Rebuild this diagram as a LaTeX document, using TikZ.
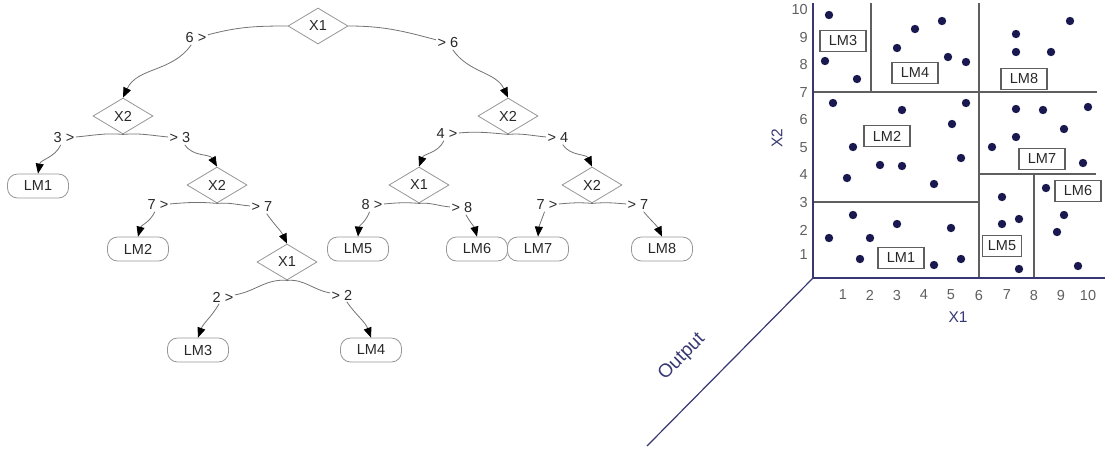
\documentclass[tikz,border=0pt]{standalone}
\usepackage{fontspec}
\setmainfont{Liberation Sans}
\usetikzlibrary{shapes.geometric,arrows.meta}
\definecolor{edgegray}{RGB}{115,115,115}
\definecolor{shapegray}{RGB}{150,150,150}
\definecolor{txt}{RGB}{40,40,40}
\definecolor{dotnavy}{RGB}{25,25,80}
\definecolor{axisblue}{RGB}{55,55,115}
\definecolor{gridgray}{RGB}{95,95,95}
\begin{document}
\begin{tikzpicture}[x=1pt,y=1pt,
  font=\fontsize{14.5}{17}\selectfont,
  split/.style={diamond, draw=shapegray, line width=0.8pt, minimum width=60pt, minimum height=36pt, inner sep=0pt, text=txt},
  leaf/.style={rectangle, rounded corners=10pt, draw=shapegray, line width=0.8pt, minimum width=61pt, minimum height=24pt, inner sep=0pt, text=txt},
  elab/.style={inner sep=1.5pt, text=txt},
  link/.style={draw=edgegray, line width=0.8pt},
  arr/.style={link, -{Triangle[length=10pt,width=8pt,color=black]}},
  region/.style={rectangle, draw=gridgray, line width=1.3pt, fill=white, minimum width=46pt, minimum height=21pt, inner sep=1pt, text=txt},
  axisline/.style={draw=axisblue, line width=1.2pt},
  gridline/.style={draw=gridgray, line width=1.3pt},
  tick/.style={text=gridgray, inner sep=0pt},
  axtitle/.style={text=axisblue, inner sep=0pt, font=\fontsize{15.5}{18}\selectfont},
  dot/.style={fill=dotnavy}
]
\useasboundingbox (0,0) rectangle (1110,-448);

% ---------------- tree ----------------
\node[split] (r) at (318,-26) {X1};
\node[split] (a) at (123,-116) {X2};
\node[split] (b) at (508,-116) {X2};
\node[split] (c) at (217,-185) {X2};
\node[split] (d) at (419,-185) {X1};
\node[split] (e) at (592,-185) {X2};
\node[split] (f) at (287,-262) {X1};

\node[leaf] (lm1) at (38,-186) {LM1};
\node[leaf] (lm2) at (138,-249) {LM2};
\node[leaf] (lm5) at (358,-249) {LM5};
\node[leaf] (lm6) at (477,-249) {LM6};
\node[leaf] (lm7) at (538,-249) {LM7};
\node[leaf] (lm8) at (662,-249) {LM8};
\node[leaf] (lm3) at (198,-350) {LM3};
\node[leaf] (lm4) at (371,-350) {LM4};

\node[elab] (l1) at (196,-38) {6 >};
\node[elab] (l2) at (448,-43) {> 6};
\node[elab] (l3) at (64,-138) {3 >};
\node[elab] (l4) at (180,-138) {> 3};
\node[elab] (l5) at (447,-134) {4 >};
\node[elab] (l6) at (558,-138) {> 4};
\node[elab] (l7) at (158,-205) {7 >};
\node[elab] (l8) at (262,-207) {> 7};
\node[elab] (l9) at (372,-205) {8 >};
\node[elab] (l10) at (462,-208) {> 8};
\node[elab] (l11) at (547,-205) {7 >};
\node[elab] (l12) at (638,-205) {> 7};
\node[elab] (l13) at (223,-297) {2 >};
\node[elab] (l14) at (342,-295) {> 2};

\draw[link] (r.west) to[out=180,in=15] (l1);
\draw[arr] (l1) to[out=235,in=65] (a.north);
\draw[link] (r.east) to[out=0,in=165] (l2);
\draw[arr] (l2) to[out=-55,in=115] (b.north);

\draw[link] (a.south) to[out=175,in=5] (l3);
\draw[arr] (l3) to[out=245,in=80] (lm1.north);
\draw[link] (a.south) to[out=5,in=175] (l4);
\draw[arr] (l4) to[out=-55,in=120] (c.north);

\draw[link] (b.south) to[out=175,in=5] (l5);
\draw[arr] (l5) to[out=245,in=70] (d.north);
\draw[link] (b.south) to[out=5,in=175] (l6);
\draw[arr] (l6) to[out=-55,in=115] (e.north);

\draw[link] (c.south) to[out=175,in=5] (l7);
\draw[arr] (l7) to[out=245,in=75] (lm2.north);
\draw[link] (c.south) to[out=5,in=175] (l8);
\draw[arr] (l8) to[out=-55,in=115] (f.north);

\draw[link] (d.south) to[out=175,in=5] (l9);
\draw[arr] (l9) to[out=250,in=85] (lm5.north);
\draw[link] (d.south) to[out=5,in=175] (l10);
\draw[arr] (l10) to[out=-60,in=105] (lm6.north);

\draw[link] (e.south) to[out=175,in=5] (l11);
\draw[arr] (l11) to[out=250,in=85] (lm7.north);
\draw[link] (e.south) to[out=5,in=175] (l12);
\draw[arr] (l12) to[out=-50,in=115] (lm8.north);

\draw[link] (f.south) to[out=175,in=10] (l13);
\draw[arr] (l13) to[out=240,in=70] (lm3.north);
\draw[link] (f.south) to[out=5,in=170] (l14);
\draw[arr] (l14) to[out=-55,in=110] (lm4.north);

% ---------------- plot ----------------
\draw[gridline] (979,-3) -- (979,-278);
\draw[gridline] (871,-3) -- (871,-92);
\draw[gridline] (813,-92) -- (1097,-92);
\draw[gridline] (813,-202) -- (979,-202);
\draw[gridline] (979,-174) -- (1096,-174);
\draw[gridline] (1034,-174) -- (1034,-278);

\draw[axisline] (813,-3) -- (813,-278) -- (1105,-278);
\draw[axisline] (813,-278) -- (647,-446);

\foreach \px/\py in {829/15,825/61,857/79,915/29,942/21,897/48,948/57,966/62,
  1016/34,1016/52,1051/52,1070/21,833/103,902/110,966/103,952/124,853/147,880/165,
  902/166,961/158,847/178,934/184,1016/109,1043/110,1088/107,1064/129,1016/137,
  992/147,1083/163,853/215,897/224,829/238,870/238,951/228,860/259,934/265,961/259,
  1002/197,1002/224,1019/219,1019/269,1046/188,1064/215,1057/232,1078/266}
  \fill[dot] (\px,-\py) circle (4.2);

\node[region] (p3) at (843,-41) {LM3};
\node[region] (p4) at (915,-73) {LM4};
\node[region] (p8) at (1024,-79) {LM8};
\node[region] (p2) at (887,-136) {LM2};
\node[region] (p7) at (1042,-159) {LM7};
\node[region] (p6) at (1078,-191) {LM6};
\node[region, minimum width=39pt] (p5) at (1002,-246) {LM5};
\node[region] (p1) at (901,-258) {LM1};

\foreach \v/\px in {1/843,2/870,3/897,4/924,5/951,6/979,7/1007,8/1034,9/1061,10/1088}
  \node[tick] (tx\v) at (\px,-295) {\v};
\foreach \v/\py in {10/10,9/38,8/65,7/93,6/120,5/148,4/175,3/203,2/230,1/255}
  \node[tick, anchor=east] (ty\v) at (808,-\py) {\v};

\node[axtitle] (xt) at (958,-317) {X1};
\node[axtitle, rotate=90] (yt) at (777,-138) {X2};
\node[axtitle, rotate=45, font=\fontsize{19}{22}\selectfont] (zt) at (682,-357) {Output};
\end{tikzpicture}
\end{document}
